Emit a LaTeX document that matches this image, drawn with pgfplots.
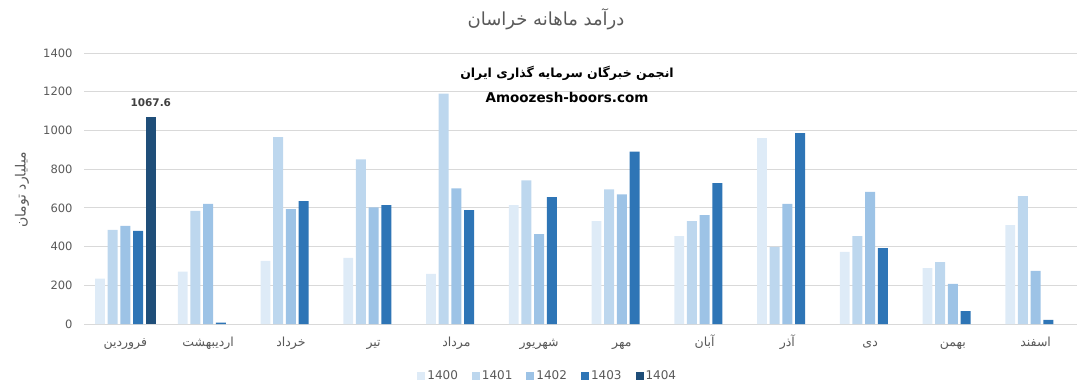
\documentclass[border=0pt]{standalone}
\usepackage{fontspec}
\setmainfont{DejaVu Sans}
\newfontfamily\ar[Script=Arabic]{DejaVu Sans}
\newfontfamily\arb[Script=Arabic]{DejaVu Sans}
\usepackage{pgfplots}
\pgfplotsset{compat=1.18}
\TeXXeTstate=1
\definecolor{c0}{HTML}{DEEBF7}
\definecolor{c1}{HTML}{BDD7EE}
\definecolor{c2}{HTML}{9DC3E6}
\definecolor{c3}{HTML}{2E75B6}
\definecolor{c4}{HTML}{1F4E79}
\definecolor{txt}{HTML}{595959}
\definecolor{gridc}{HTML}{D9D9D9}
\begin{document}
\begin{tikzpicture}
\useasboundingbox (0pt,0pt) rectangle (1083pt,388pt);
\begin{axis}[
  at={(84pt,64pt)}, anchor=south west,
  width=993pt, height=271pt, scale only axis,
  xmin=-0.5, xmax=11.5, ymin=0, ymax=1400,
  ytick={0,200,...,1400},
  xtick={0,...,11},
  xticklabels={{\ar\beginR فروردین\endR},{\ar\beginR اردیبهشت\endR},{\ar\beginR خرداد\endR},{\ar\beginR تیر\endR},{\ar\beginR مرداد\endR},{\ar\beginR شهریور\endR},{\ar\beginR مهر\endR},{\ar\beginR آبان\endR},{\ar\beginR آذر\endR},{\ar\beginR دی\endR},{\ar\beginR بهمن\endR},{\ar\beginR اسفند\endR}},
  x tick label style={font=\fontsize{12.5}{12.5}\selectfont, text=txt, anchor=base, yshift=-22pt},
  y tick label style={font=\fontsize{11.5}{11.5}\selectfont, text=txt, xshift=-8pt},
  /pgf/number format/assume math mode=true,
  /pgf/number format/1000 sep={},
  ymajorgrids, grid style={draw=gridc, line width=0.8pt},
  axis x line*=bottom, axis y line*=left,
  x axis line style={draw=gridc, line width=0.8pt, -},
  y axis line style={draw=none},
  major tick length=0pt,
  ybar, bar width=0.12,
  legend columns=5,
  legend style={at={(0.467,-0.192)}, anchor=center, draw=none, fill=none,
    font=\fontsize{12}{12}\selectfont, text=txt,
    /tikz/every odd column/.append style={column sep=0pt},
    /tikz/every even column/.append style={column sep=12pt}},
  legend image code/.code={\fill[#1] (0pt,-4pt) rectangle (8pt,4pt);},
]
\addplot[fill=c0, draw=none, bar shift=-0.307] coordinates {(0,234) (1,270) (2,326) (3,341) (4,259) (5,614) (6,531) (7,454) (8,960) (9,372) (10,289) (11,511)};
\addplot[fill=c1, draw=none, bar shift=-0.1535] coordinates {(0,486) (1,584) (2,965) (3,850) (4,1190) (5,742) (6,696) (7,531) (8,398) (9,454) (10,320) (11,661)};
\addplot[fill=c2, draw=none, bar shift=0] coordinates {(0,507) (1,620) (2,594) (3,603) (4,701) (5,464) (6,670) (7,562) (8,620) (9,682) (10,207) (11,274)};
\addplot[fill=c3, draw=none, bar shift=0.1535] coordinates {(0,481) (1,7) (2,635) (3,614) (4,588) (5,655) (6,891) (7,728) (8,986) (9,392) (10,67) (11,21)};
\addplot[fill=c4, draw=none, bar shift=0.307, nodes near coords, nodes near coords style={font=\bfseries\fontsize{10.5}{10.5}\selectfont, text=black!75, yshift=7pt, /pgf/number format/fixed, /pgf/number format/precision=1, /pgf/number format/1000 sep={}}] coordinates {(0,1067.6)};
\legend{1400,1401,1402,1403,1404}
\end{axis}
\node[text=txt, font=\ar\fontsize{18}{18}\selectfont] at (546pt,369pt) {\beginR درآمد ماهانه خراسان\endR};
\node[text=black, font=\arb\bfseries\fontsize{12.5}{12.5}\selectfont] at (567pt,315pt) {\beginR انجمن خبرگان سرمایه گذاری ایران\endR};
\node[text=black, font=\arb\bfseries\fontsize{13.5}{13.5}\selectfont] at (567pt,291pt) {Amoozesh-boors.com};
\node[text=txt, rotate=90, font=\ar\fontsize{14}{14}\selectfont] at (22pt,198pt) {\beginR میلیارد تومان\endR};
\end{tikzpicture}
\end{document}
